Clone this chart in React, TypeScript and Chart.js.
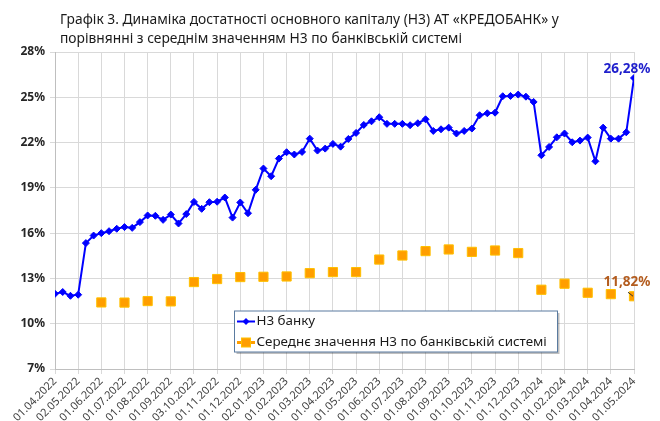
import React, { useEffect, useRef } from 'react';
import { Chart, registerables } from 'chart.js';

Chart.register(...registerables);

const titleLines = [
  'Графік 3. Динаміка достатності основного капіталу (Н3) АТ «КРЕДОБАНК» у',
  'порівнянні з середнім значенням Н3 по банківській системі',
];

const monthLabels = [
  '01.04.2022', '02.05.2022', '01.06.2022', '01.07.2022', '01.08.2022', '01.09.2022',
  '03.10.2022', '01.11.2022', '01.12.2022', '02.01.2023', '01.02.2023', '01.03.2023',
  '01.04.2023', '01.05.2023', '01.06.2023', '01.07.2023', '01.08.2023', '01.09.2023',
  '01.10.2023', '01.11.2023', '01.12.2023', '01.01.2024', '01.02.2024', '01.03.2024',
  '01.04.2024', '01.05.2024',
];

// Bank H3, three observations per month (76 points)
const bankValues = [
  11.98, 12.1, 11.85, 11.92, 15.34, 15.84, 16.0, 16.13, 16.29, 16.4,
  16.35, 16.73, 17.17, 17.15, 16.88, 17.23, 16.64, 17.26, 18.07, 17.61,
  18.05, 18.08, 18.36, 17.03, 18.03, 17.32, 18.87, 20.28, 19.77, 20.94,
  21.36, 21.21, 21.38, 22.26, 21.47, 21.6, 21.91, 21.73, 22.24, 22.64,
  23.17, 23.41, 23.68, 23.24, 23.24, 23.24, 23.15, 23.28, 23.54, 22.77,
  22.88, 22.99, 22.6, 22.77, 22.93, 23.81, 23.94, 23.98, 25.07, 25.09,
  25.18, 25.04, 24.69, 21.16, 21.71, 22.35, 22.6, 22.02, 22.13, 22.33,
  20.76, 22.99, 22.26, 22.26, 22.68, 26.28,
];

// System average H3, one value per month label (null = no value)
const systemValues: (number | null)[] = [
  null, null, 11.41, 11.4, 11.5, 11.48, 12.76, 12.96, 13.09, 13.11,
  13.13, 13.35, 13.42, 13.42, 14.25, 14.52, 14.81, 14.92, 14.76, 14.85,
  14.68, 12.25, 12.65, 12.05, 11.96, 11.82,
];

const pointsPerMonth = 3;
const yMin = 7;
const yMax = 28;
const yStep = 3;

const bankLabel = 'Н3 банку';
const systemLabel = 'Середнє значення Н3 по банківській системі';
const bankLastLabel = '26,28%';
const systemLastLabel = '11,82%';

const FONT = '"Noto Sans", "DejaVu Sans", sans-serif';
const BLUE = '#0000FF';
const ORANGE = '#FF9E00';
const ORANGE_BORDER = '#FFC000';

export default function App() {
  const ref = useRef<HTMLCanvasElement | null>(null);

  useEffect(() => {
    document.body.style.margin = '0';
    const canvas = ref.current;
    if (!canvas) return;

    const bankData = bankValues.map((v, i) => ({ x: i, y: v }));
    const sysData = systemValues
      .map((v, j) => ({ x: j * pointsPerMonth, y: v }))
      .filter((d) => d.y !== null) as { x: number; y: number }[];

    const extras = {
      id: 'extras',
      afterDraw(chart: any) {
        const ctx = chart.ctx as CanvasRenderingContext2D;
        const ca = chart.chartArea;
        ctx.save();
        // Title
        ctx.fillStyle = '#1a1a1a';
        ctx.font = `13.8px ${FONT}`;
        ctx.textAlign = 'left';
        ctx.textBaseline = 'alphabetic';
        ctx.fillText(titleLines[0], 60, 24);
        ctx.fillText(titleLines[1], 60, 43);

        // Last-point labels
        const m0 = chart.getDatasetMeta(0).data;
        const p0 = m0[m0.length - 1];
        ctx.font = `bold 13.5px ${FONT}`;
        ctx.textAlign = 'center';
        ctx.textBaseline = 'middle';
        ctx.fillStyle = '#1F1FCC';
        ctx.fillText(bankLastLabel, p0.x - 7, p0.y - 9);

        const m1 = chart.getDatasetMeta(1).data;
        const p1 = m1[m1.length - 1];
        ctx.fillStyle = '#B35C1E';
        ctx.fillText(systemLastLabel, p1.x - 7, p1.y - 14);
        ctx.strokeStyle = '#333';
        ctx.lineWidth = 1;
        ctx.beginPath();
        ctx.moveTo(p1.x - 6, p1.y - 4);
        ctx.lineTo(p1.x - 1, p1.y);
        ctx.stroke();

        // Legend box
        const bx = ca.left + 179.5;
        const by = ca.top + 259;
        const bw = 323;
        const bh = 41;
        ctx.fillStyle = 'rgba(0,0,0,0.25)';
        ctx.fillRect(bx + 2, by + 2, bw, bh);
        ctx.fillStyle = '#ffffff';
        ctx.fillRect(bx, by, bw, bh);
        ctx.strokeStyle = '#5a7ba0';
        ctx.lineWidth = 1;
        ctx.strokeRect(bx, by, bw, bh);

        const lx0 = bx + 2.5;
        const lx1 = bx + 20.5;
        const ly1 = by + 10.5;
        const ly2 = by + 31.5;
        // item 1
        ctx.strokeStyle = BLUE;
        ctx.lineWidth = 2;
        ctx.beginPath();
        ctx.moveTo(lx0, ly1);
        ctx.lineTo(lx1, ly1);
        ctx.stroke();
        ctx.fillStyle = BLUE;
        const cx = (lx0 + lx1) / 2;
        ctx.beginPath();
        ctx.moveTo(cx, ly1 - 3.5);
        ctx.lineTo(cx + 3.5, ly1);
        ctx.lineTo(cx, ly1 + 3.5);
        ctx.lineTo(cx - 3.5, ly1);
        ctx.closePath();
        ctx.fill();
        // item 2
        ctx.strokeStyle = ORANGE;
        ctx.lineWidth = 3;
        ctx.beginPath();
        ctx.moveTo(lx0, ly2);
        ctx.lineTo(lx1, ly2);
        ctx.stroke();
        ctx.fillStyle = ORANGE;
        ctx.fillRect(cx - 4.5, ly2 - 4.5, 9, 9);
        ctx.strokeStyle = ORANGE_BORDER;
        ctx.lineWidth = 1;
        ctx.strokeRect(cx - 4.5, ly2 - 4.5, 9, 9);

        ctx.fillStyle = '#1a1a1a';
        ctx.font = `13.4px ${FONT}`;
        ctx.textAlign = 'left';
        ctx.textBaseline = 'middle';
        ctx.fillText(bankLabel, lx1 + 1.5, ly1);
        ctx.fillText(systemLabel, lx1 + 1.5, ly2);
        ctx.restore();
      },
    };

    const chart = new Chart(canvas, {
      type: 'line',
      data: {
        datasets: [
          {
            label: bankLabel,
            data: bankData,
            borderColor: BLUE,
            backgroundColor: BLUE,
            borderWidth: 2,
            pointStyle: 'rectRot',
            pointRadius: 3.5,
            pointBorderWidth: 1,
            tension: 0,
          },
          {
            label: systemLabel,
            data: sysData,
            showLine: false,
            pointStyle: 'rect',
            pointRadius: 6.5,
            pointBackgroundColor: ORANGE,
            pointBorderColor: ORANGE_BORDER,
            pointBorderWidth: 1,
            backgroundColor: ORANGE,
            borderColor: ORANGE_BORDER,
          },
        ],
      },
      options: {
        animation: false,
        responsive: false,
        maintainAspectRatio: false,
        layout: { padding: { top: 52, right: 26, left: 0, bottom: 0 } },
        plugins: {
          legend: { display: false },
          tooltip: { enabled: false },
          title: { display: false },
        },
        scales: {
          x: {
            type: 'linear',
            min: 0,
            max: (monthLabels.length - 1) * pointsPerMonth,
            afterBuildTicks: (s: any) => {
              s.ticks = monthLabels.map((_, j) => ({ value: j * pointsPerMonth }));
            },
            afterFit: (s: any) => {
              s.height = 52;
            },
            ticks: {
              autoSkip: false,
              maxRotation: 45,
              minRotation: 45,
              padding: 1,
              color: '#404040',
              font: { family: FONT, size: 11 },
              callback: (v: any) => monthLabels[Math.round(Number(v) / pointsPerMonth)] ?? '',
            },
            grid: { color: '#d9d9d9', tickLength: 5, lineWidth: 1 },
            border: { color: '#bfbfbf' },
          },
          y: {
            min: yMin,
            max: yMax,
            afterFit: (s: any) => {
              s.width = 55;
            },
            ticks: {
              stepSize: yStep,
              padding: 5,
              color: '#262626',
              font: { family: FONT, size: 12, weight: 700 },
              callback: (v: any) => `${v}%`,
            },
            grid: { color: '#d9d9d9', tickLength: 5, lineWidth: 1 },
            border: { color: '#bfbfbf' },
          },
        },
      },
      plugins: [extras],
    } as any);

    return () => chart.destroy();
  }, []);

  return (
    <div style={{ width: 660, height: 421 }}>
      <canvas ref={ref} width={660} height={421} style={{ display: 'block' }} />
    </div>
  );
}
